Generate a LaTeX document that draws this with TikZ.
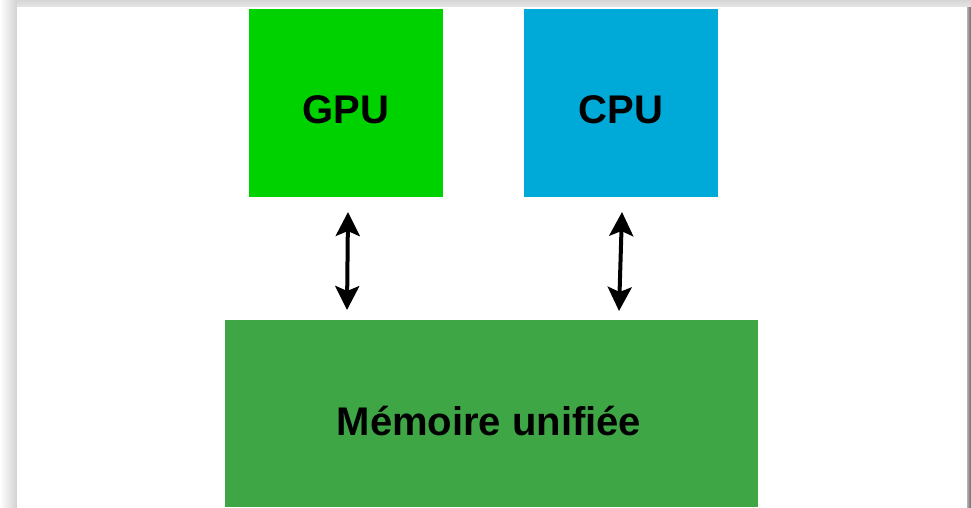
\documentclass[tikz,border=0pt]{standalone}
\usepackage{fontspec}
\setmainfont{Liberation Sans}
\usetikzlibrary{arrows.meta}
\definecolor{gpugreen}{HTML}{00D200}
\definecolor{cpublue}{HTML}{00AAD8}
\definecolor{memgreen}{HTML}{3FA646}
\tikzset{
  label/.style={font=\bfseries\fontsize{40}{42}\selectfont},
  link/.style={line width=4pt, {Stealth[width=24pt,length=24pt,inset=5pt]}-{Stealth[width=24pt,length=24pt,inset=5pt]}}
}
\begin{document}
\begin{tikzpicture}[x=1pt,y=-1pt]
\useasboundingbox (0,0) rectangle (971,507);
% page shadow
\shade[left color=white, right color=black!18] (0,0) rectangle (17,507);
\shade[top color=black!16, bottom color=black!10] (17,0) rectangle (971,7);
\shade[left color=black!30, right color=black!60] (967,7) rectangle (971,507);
\fill[white] (17,7) rectangle (967,507);
% boxes
\fill[gpugreen] (249,9) rectangle (443,197);
\node[label] (gpu) at (346,110) {GPU};
\fill[cpublue] (524,9) rectangle (718,197);
\node[label] (cpu) at (621,110) {CPU};
\fill[memgreen] (225,320) rectangle (758,507);
\node[label] (mem) at (489,421) {Mémoire unifiée};
% arrows
\coordinate (g1) at (348,212);
\coordinate (g2) at (347,310);
\coordinate (c1) at (622,212);
\coordinate (c2) at (619,311);
\draw[link] (g1) -- (g2);
\draw[link] (c1) -- (c2);
\end{tikzpicture}
\end{document}
